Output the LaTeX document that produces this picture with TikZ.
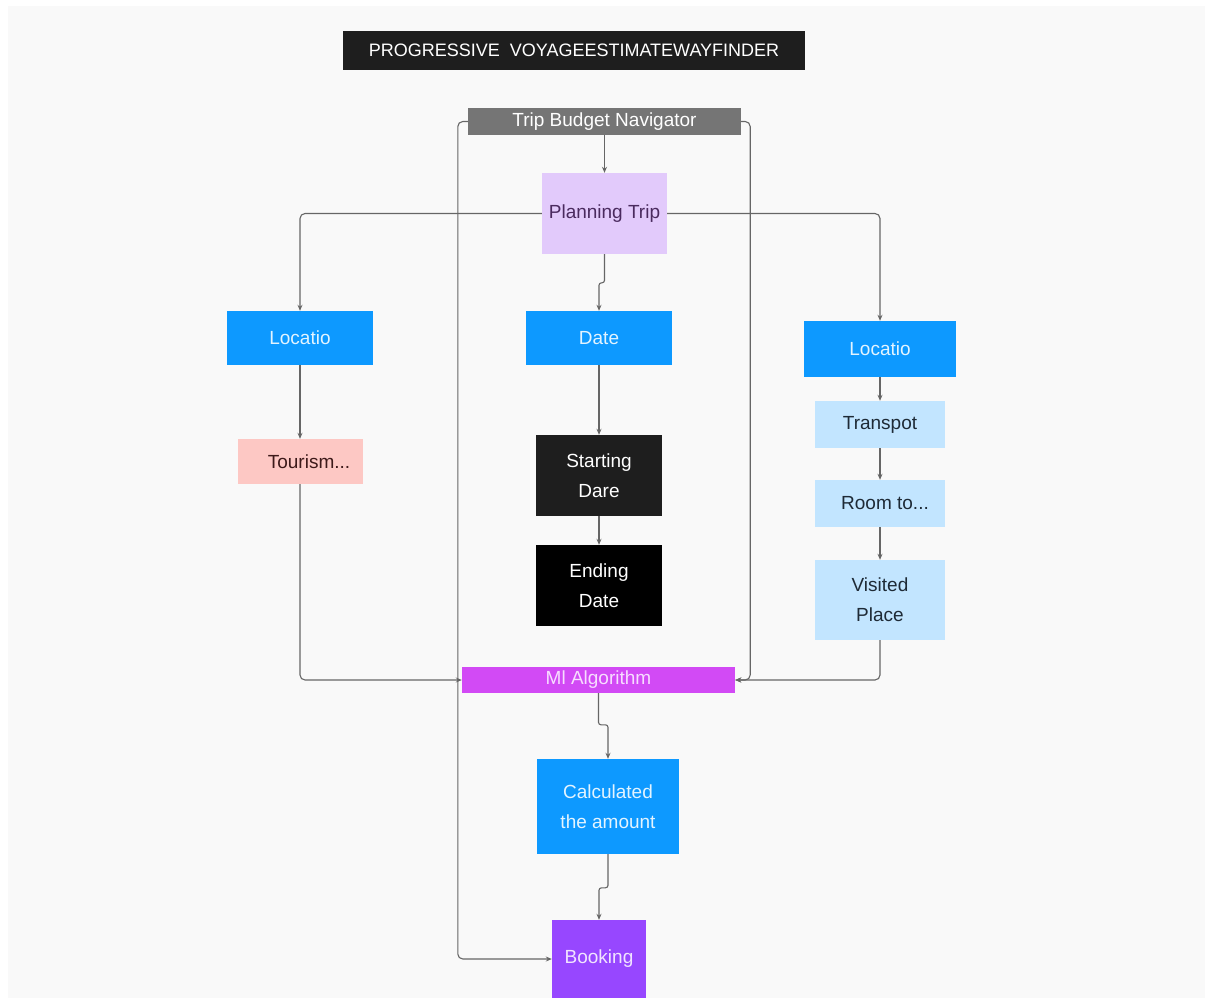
\documentclass[tikz,border=0pt]{standalone}
\usepackage{fontspec}
\setmainfont{Liberation Sans}
\usepackage{xcolor}
\usetikzlibrary{positioning,arrows.meta,calc}
\definecolor{pagebg}{HTML}{F9F9F9}
\definecolor{titlebg}{HTML}{1E1E1E}
\definecolor{navgray}{HTML}{757575}
\definecolor{lav}{HTML}{E2CAFB}
\definecolor{lavtext}{HTML}{4A2A5E}
\definecolor{figblue}{HTML}{0D99FF}
\definecolor{bluetext}{HTML}{E3F4FF}
\definecolor{pinkbox}{HTML}{FDC8C4}
\definecolor{pinktext}{HTML}{3D1A1A}
\definecolor{lightblue}{HTML}{C2E5FF}
\definecolor{lbtext}{HTML}{1E2A36}
\definecolor{mlpink}{HTML}{D24AF5}
\definecolor{mltext}{HTML}{F7DDFF}
\definecolor{violet}{HTML}{9747FF}
\definecolor{violettext}{HTML}{F1E4FF}
\definecolor{wire}{HTML}{666666}

\begin{document}
\begin{tikzpicture}[x=1pt,y=-1pt,
  box/.style={rectangle,inner sep=0pt,align=center,font=\fontsize{19}{30}\selectfont},
  bluebox/.style={box,fill=figblue,text=bluetext},
  lbbox/.style={box,fill=lightblue,text=lbtext,minimum width=130pt},
  darkbox/.style={box,text=white,minimum width=126pt,minimum height=81pt},
  conn/.style={draw=wire,line width=1.1pt,rounded corners=5pt,-{Stealth[length=6pt,width=5pt]}},
  jog/.style={conn,rounded corners=2.5pt}]
\useasboundingbox (0,0) rectangle (1208,998);
\fill[white] (0,0) rectangle (1208,998);
\fill[pagebg] (8,6) rectangle (1205,998);
% title and top
\node[box,fill=titlebg,text=white,minimum width=462pt,minimum height=39pt,font=\fontsize{18}{22}\selectfont] (title) at (574,50.5) {PROGRESSIVE\ \ VOYAGEESTIMATEWAYFINDER};
\node[box,fill=navgray,text=white,minimum width=273pt,minimum height=27pt] (nav) at (604.5,121.5) {Trip Budget Navigator};
\node[box,fill=lav,text=lavtext,minimum width=125pt,minimum height=81pt] (plan) at (604.5,213.5) {Planning Trip};
% left branch
\node[bluebox,minimum width=146pt,minimum height=54pt] (locL) at (300,338) {Locatio};
\node[box,fill=pinkbox,text=pinktext,minimum width=125pt,minimum height=45pt] (tour) at (300,461.5) {\hspace*{18pt}Tourism...};
% middle branch
\node[bluebox,minimum width=146pt,minimum height=54pt] (date) at (599,338) {Date};
\node[darkbox,fill=titlebg] (start) at (599,475.5) {Starting\\Dare};
\node[darkbox,fill=black] (endd) at (599,585.5) {Ending\\Date};
% right branch
\node[bluebox,minimum width=152pt,minimum height=56pt] (locR) at (880,349) {Locatio};
\node[lbbox,minimum height=47pt] (trans) at (880,424.5) {Transpot};
\node[lbbox,minimum height=47pt] (room) at (880,503.5) {\hspace*{10pt}Room to...};
\node[lbbox,minimum height=80pt] (visit) at (880,600) {Visited\\Place};
% bottom
\node[box,fill=mlpink,text=mltext,minimum width=273pt,minimum height=26pt] (ml) at (598.5,680) {Ml Algorithm};
\node[bluebox,minimum width=142pt,minimum height=95pt] (calc) at (608,806.5) {Calculated\\the amount};
\node[box,fill=violet,text=violettext,minimum width=94pt,minimum height=78pt] (book) at (599,959) {Booking};

\draw[conn] (nav) -- (plan);
\draw[conn] (plan.west) -| (locL.north);
\draw[conn] (plan.east) -| (locR.north);
\draw[jog] (plan.south) |- ([yshift=28pt]date.north) -- (date.north);
\draw[conn] (locL) -- (tour);
\draw[conn] (tour.south) |- (ml.west);
\draw[conn] (date) -- (start);
\draw[conn] (start) -- (endd);
\draw[conn] (locR) -- (trans);
\draw[conn] (trans) -- (room);
\draw[conn] (room) -- (visit);
\draw[conn] (visit.south) |- (ml.east);
\draw[conn] (nav.west) -- ++(-10,0) |- (book.west);
\draw[conn] (nav.east) -- ++(9,0) |- (ml.east);
\draw[jog] (ml.south) |- ([yshift=34pt]calc.north) -- (calc.north);
\draw[jog] (calc.south) |- ([yshift=32pt]book.north) -- (book.north);
\end{tikzpicture}
\end{document}
